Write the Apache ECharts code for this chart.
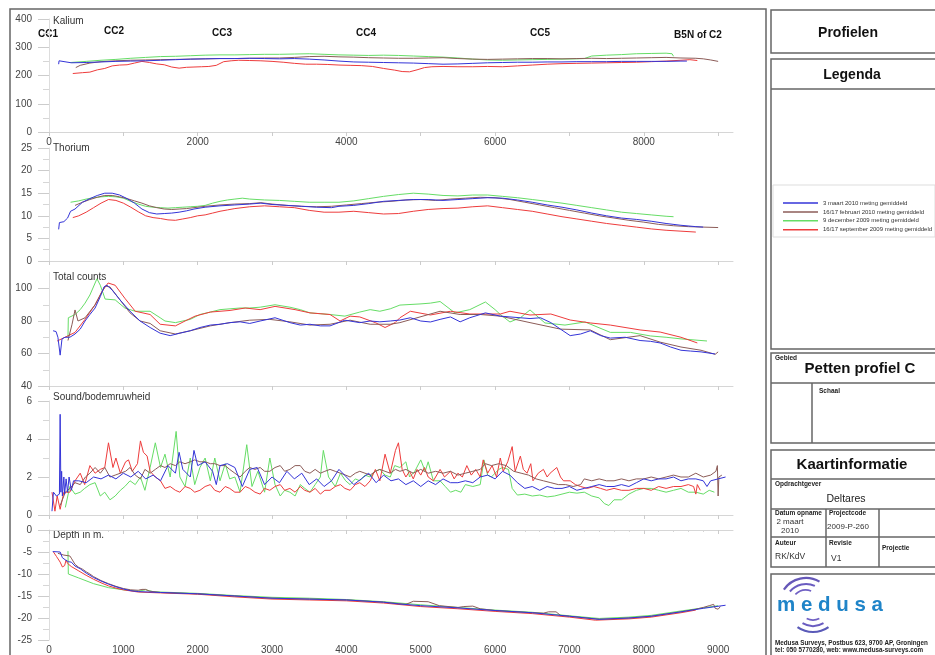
<!DOCTYPE html>
<html><head><meta charset="utf-8">
<script src="https://cdn.jsdelivr.net/npm/echarts@6/dist/echarts.min.js"></script>
<style>html,body{margin:0;padding:0;background:#fff}#c{width:935px;height:655px}</style>
</head><body><div id="c"></div>
<script>
// ---------- data ----------
const seriesNames = ['3 maart 2010 meting gemiddeld','16/17 februari 2010 meting gemiddeld','9 december 2009 meting gemiddeld','16/17 september 2009 meting gemiddeld'];
const panelTitles = ['Kalium','Thorium','Total counts','Sound/bodemruwheid','Depth in m.'];
const sectionLabels = ['CC1','CC2','CC3','CC4','CC5','B5N of C2'];
const distTicks = [0,1000,2000,3000,4000,5000,6000,7000,8000,9000];
const kaliumDistLabels = [0,2000,4000,6000,8000];
const depthDistLabels = [0,1000,2000,3000,4000,5000,6000,7000,8000,9000];
const kaliumTicks = [0,100,200,300,400];
const thoriumTicks = [0,5,10,15,20,25];
const countsTicks = [40,60,80,100];
const soundTicks = [0,2,4,6];
const depthTicks = [-25,-20,-15,-10,-5,0];

const kaliumBlue = [[130,240],[135,252],[150,246],[300,245],[500,246],[700,248],[900,250],[1100,251],[1300,252],[1500,254],[1700,256],[1900,258],[2100,259],[2300,260],[2500,260],[2700,261],[2900,260],[3100,259],[3300,260],[3500,258],[3700,255],[3900,251],[4100,248],[4300,247],[4500,246],[4700,245],[4900,244],[5100,242],[5300,240],[5500,241],[5700,243],[5900,245],[6100,246],[6300,247],[6500,247],[6700,248],[6900,248],[7100,249],[7300,249],[7500,249],[7700,250],[7900,250],[8100,250],[8300,250],[8500,251],[8580,251]];
const kaliumBrown = [[360,228],[420,236],[550,244],[700,249],[900,252],[1100,254],[1300,255],[1500,256],[1700,257],[1900,258],[2100,259],[2300,260],[2500,260],[2700,261],[2900,262],[3100,262],[3300,264],[3500,267],[3700,268],[3900,266],[4100,265],[4300,263],[4500,262],[4700,261],[4900,261],[5100,262],[5300,263],[5500,260],[5700,258],[5900,257],[6100,258],[6300,259],[6500,260],[6700,260],[6900,259],[7100,260],[7300,261],[7500,260],[7700,261],[7900,262],[8100,263],[8300,264],[8500,262],[8700,261],[8800,259],[8900,255],[9000,250]];
const kaliumGreen = [[290,246],[500,250],[700,254],[900,257],[1100,261],[1300,264],[1500,267],[1700,268],[1900,270],[2100,272],[2300,273],[2500,273],[2700,274],[2900,275],[3100,275],[3300,276],[3500,277],[3700,275],[3900,273],[4100,272],[4300,271],[4500,272],[4700,271],[4900,269],[5100,267],[5300,265],[5500,262],[5700,258],[5900,255],[6100,254],[6300,255],[6500,256],[6700,257],[6900,258],[7100,259],[7200,260],[7300,269],[7500,272],[7700,274],[7900,277],[8100,278],[8300,279],[8380,277],[8400,268]];
const kaliumRed = [[320,207],[450,210],[550,212],[650,220],[750,225],[850,234],[950,237],[1050,238],[1150,244],[1250,250],[1350,246],[1450,241],[1550,238],[1650,230],[1750,226],[1850,229],[1950,230],[2050,231],[2150,232],[2250,236],[2350,249],[2450,252],[2550,254],[2700,253],[2850,252],[3000,250],[3150,247],[3300,243],[3450,240],[3600,240],[3750,239],[3900,237],[4050,236],[4200,235],[4350,232],[4500,225],[4650,219],[4750,214],[4850,213],[4950,220],[5050,228],[5150,231],[5300,232],[5500,231],[5700,231],[5900,232],[6100,231],[6300,234],[6500,237],[6700,240],[6900,242],[7100,243],[7300,244],[7500,245],[7700,246],[7900,247],[8100,249],[8300,251],[8500,254],[8620,256],[8720,253]];

const thoriumBlue = [[130,7],[140,8.5],[200,8.7],[250,9.5],[290,11],[350,11.5],[450,13],[550,13.8],[650,14.5],[750,15],[850,15],[950,14.6],[1050,13.8],[1150,12.8],[1250,11.5],[1350,10.7],[1450,10.4],[1550,10.5],[1650,10.6],[1750,10.8],[1850,11.1],[1950,11.5],[2100,11.9],[2300,12.2],[2500,12.4],[2700,12.6],[2850,12.8],[3000,12.5],[3200,12.3],[3400,12.1],[3600,11.9],[3800,11.8],[3900,12.1],[4100,12.3],[4300,12.7],[4500,13.2],[4700,13.4],[4900,13.6],[5100,13.6],[5300,13.4],[5500,13.6],[5700,13.8],[5900,14],[6100,13.9],[6300,13.5],[6500,13],[6700,12.4],[6900,11.9],[7100,11.3],[7300,10.6],[7500,10],[7700,9.5],[7900,9.2],[8100,8.8],[8300,8.3],[8500,7.9],[8700,7.6],[8800,7.5]];
const thoriumBrown = [[350,12.3],[450,13],[550,13.6],[650,14.1],[750,14.5],[850,14.5],[950,14.2],[1050,13.8],[1150,13.3],[1250,12.8],[1350,12.2],[1450,11.8],[1550,11.5],[1650,11.4],[1750,11.5],[1850,11.6],[1950,11.8],[2100,12.1],[2300,12.4],[2500,12.6],[2700,12.7],[2850,12.9],[3000,12.6],[3200,12.3],[3400,12.1],[3600,12],[3800,12.1],[4000,12.4],[4200,12.7],[4400,13],[4600,13.2],[4800,13.5],[5000,13.6],[5200,13.4],[5400,13.7],[5600,13.9],[5800,14.1],[6000,14],[6200,13.6],[6400,13],[6600,12.4],[6800,11.8],[7000,11.2],[7200,10.6],[7400,10],[7600,9.5],[7800,9],[8000,8.6],[8200,8.1],[8400,7.8],[8600,7.6],[8800,7.5],[9000,7.4]];
const thoriumGreen = [[290,13],[400,13.3],[500,13.7],[600,14],[700,14.2],[800,14.3],[900,14.2],[1000,13.9],[1100,13.2],[1200,12.6],[1300,12.1],[1400,11.9],[1500,11.8],[1600,11.7],[1700,11.8],[1800,11.9],[1900,12],[2000,12.1],[2100,12.3],[2200,12.8],[2300,13.2],[2400,13.5],[2500,13.7],[2600,13.9],[2700,13.7],[2900,13.5],[3100,13.4],[3300,13.2],[3500,13],[3700,13],[3900,13],[4100,13.3],[4300,13.8],[4500,14.3],[4700,14.7],[4900,15],[5100,14.8],[5300,14.5],[5500,14.4],[5700,14.6],[5900,14.6],[6100,14.3],[6300,14],[6500,13.6],[6700,13.2],[6900,12.8],[7100,12.3],[7300,11.8],[7500,11.3],[7700,10.8],[7900,10.5],[8100,10.2],[8300,9.9],[8400,9.8]];
const thoriumRed = [[320,9.6],[400,10],[500,10.8],[600,11.8],[700,12.8],[800,13.6],[900,13.4],[1000,12.8],[1100,11.9],[1200,10.9],[1300,10],[1400,9.6],[1500,9.4],[1600,9.1],[1700,9.0],[1800,9.3],[1900,9.6],[2000,10],[2100,10.2],[2200,10.6],[2300,11],[2400,11.3],[2500,11.6],[2700,12],[2900,12.2],[3100,12],[3300,11.8],[3500,11.2],[3700,10.8],[3900,10.8],[4100,11],[4300,10.7],[4500,10.4],[4700,10.5],[4900,11],[5100,11.4],[5300,11.6],[5500,11.7],[5700,12],[5900,12.2],[6100,11.8],[6300,11.4],[6500,11],[6700,10.4],[6900,9.8],[7100,9.3],[7300,8.8],[7500,8.3],[7700,7.9],[7900,7.5],[8100,7.1],[8300,6.8],[8500,6.6],[8700,6.4]];

const countsBlue = [[55,74],[95,73.5],[120,70],[150,59],[175,69],[215,70],[280,70],[350,72],[420,75],[485,80],[550,84],[620,88],[690,95],[740,101],[780,102],[850,99],[955,93],[1090,86],[1225,80],[1360,76],[1495,72.5],[1630,71],[1760,72.5],[1900,74],[2030,76],[2170,77.5],[2300,78],[2435,79],[2570,79.5],[2700,78.5],[2840,80],[3040,82],[3240,79],[3380,77.5],[3510,78],[3650,77],[3780,77],[3980,80.5],[4180,79],[4320,80],[4450,79.5],[4590,80],[4720,80.6],[4860,82],[5000,80],[5130,79.4],[5260,81],[5400,82.5],[5530,79.5],[5660,82],[5870,85],[6070,83],[6200,82.5],[6340,82],[6470,81.5],[6610,82],[6750,79],[6880,75],[7010,71],[7150,72],[7280,74],[7420,71],[7550,69.5],[7750,70],[7950,68],[8090,67.5],[8220,66.5],[8360,64],[8500,62],[8630,61.5],[8770,61],[8960,59.7]];
const countsBrown = [[255,68],[310,78],[350,86.8],[390,80],[485,82],[620,90],[755,101.5],[820,101],[955,93],[1090,85],[1225,80],[1360,78.5],[1495,74],[1700,72],[1900,74],[2170,77],[2435,79],[2700,80.5],[2970,81],[3240,79.5],[3510,77.5],[3780,78],[4050,80.5],[4320,78],[4590,78],[4720,79],[4990,82.5],[5260,86],[5530,84],[5800,84],[6070,83],[6470,79],[6880,75],[7280,74.5],[7550,68.5],[7950,71],[8220,67],[8500,64],[8770,62],[8960,59.5],[9000,61]];
const countsGreen = [[255,70],[260,82],[350,84],[420,87],[485,91],[550,96],[645,106],[690,102],[755,93.5],[890,93],[1020,88],[1160,86],[1360,86],[1495,82],[1560,80],[1700,79],[1900,81],[2030,84],[2170,85.5],[2300,87],[2435,87.5],[2570,88],[2700,88],[2840,88.5],[3040,90],[3240,88.5],[3380,87],[3510,85],[3650,84.5],[3780,84],[3980,83],[4180,85.5],[4320,87],[4450,86],[4590,87.5],[4720,89.8],[4990,90.5],[5130,91],[5260,92],[5460,85],[5660,87],[5870,91.7],[6000,87],[6070,84],[6200,79.4],[6340,82],[6470,86.8],[6670,78.8],[6940,77.5],[7210,79.4],[7550,73],[7820,73],[8090,70.8],[8300,70],[8500,69],[8850,67.7]];
const countsRed = [[110,67.7],[215,70],[350,73],[485,81],[620,90],[710,98],[795,103.4],[890,102],[1020,94],[1160,86],[1360,84],[1495,78],[1700,77],[1830,80],[1965,83],[2170,85.5],[2435,86.5],[2640,88],[2840,87],[3040,89],[3310,87],[3510,85],[3780,84],[3915,80],[4050,83],[4180,82.5],[4390,79],[4520,76],[4655,79],[4720,82],[4860,86],[5130,83.7],[5400,86],[5660,84.3],[6070,84.3],[6200,86],[6470,83.7],[6750,84.3],[7010,80.6],[7280,78.8],[7550,77.5],[7950,74.5],[8220,73.2],[8500,70],[8720,66.5]];

const soundBlue = [[40,0.2],[60,1.2],[100,1.0],[140,1.1],[150,5.3],[160,1.2],[170,2.3],[180,1.0],[200,2.0],[210,1.1],[230,1.9],[250,1.2],[270,2.0],[300,1.3],[330,1.8],[400,1.8],[500,1.7],[600,2.0],[700,1.9],[800,2.1],[900,1.9],[1000,2.2],[1100,2.0],[1200,2.3],[1300,1.9],[1400,2.1],[1500,1.8],[1600,2.6],[1700,2.2],[1750,3.3],[1800,2.4],[1900,2.0],[1950,3.4],[2000,2.6],[2100,2.8],[2200,2.3],[2250,1.6],[2300,2.6],[2400,2.7],[2500,2.5],[2600,1.5],[2700,2.4],[2800,2.5],[2900,1.6],[3000,2.0],[3100,1.7],[3200,2.3],[3300,1.9],[3400,2.2],[3500,1.6],[3600,1.9],[3700,1.5],[3800,1.8],[3900,2.4],[4000,2.0],[4100,1.6],[4200,1.9],[4300,2.2],[4400,1.7],[4500,2.1],[4600,1.8],[4700,1.9],[4800,1.6],[4900,1.8],[5000,1.5],[5100,1.8],[5200,1.6],[5300,1.9],[5400,1.7],[5500,1.7],[5600,1.8],[5700,1.7],[5800,2.0],[5900,2.1],[6000,1.9],[6100,2.3],[6200,2.1],[6300,1.7],[6400,1.4],[6500,1.5],[6600,1.3],[6700,1.5],[6800,1.4],[6900,1.4],[7000,1.5],[7100,1.3],[7200,1.4],[7300,1.5],[7400,1.6],[7500,1.5],[7600,1.5],[7700,1.6],[7800,1.5],[7900,1.7],[8000,1.9],[8100,1.8],[8200,1.9],[8300,1.9],[8400,2.0],[8500,1.8],[8600,1.9],[8700,1.9],[8800,1.8],[8850,1.5],[8900,1.8],[9000,1.9],[9100,2.0]];
const soundBrown = [[150,0.5],[220,1.2],[280,1.4],[350,1.7],[420,1.6],[490,2.0],[550,2.2],[620,2.5],[690,2.2],[750,2.5],[820,2.0],[890,2.1],[960,2.2],[1030,2.3],[1090,2.5],[1160,2.1],[1230,1.9],[1290,2.4],[1360,2.2],[1430,2.4],[1500,2.6],[1560,2.5],[1630,2.7],[1700,2.6],[1760,2.8],[1830,2.7],[1900,2.8],[1960,2.9],[2030,2.8],[2100,2.8],[2170,2.7],[2230,2.7],[2300,2.6],[2370,2.6],[2430,2.4],[2500,2.2],[2570,2.0],[2640,2.3],[2700,2.5],[2770,2.4],[2840,2.5],[2900,2.3],[2970,2.3],[3040,2.5],[3110,2.6],[3170,2.3],[3240,2.4],[3310,2.6],[3380,2.6],[3440,2.3],[3510,2.2],[3580,2.4],[3650,2.2],[3710,2.3],[3780,2.4],[3850,2.3],[3920,2.2],[3990,2.1],[4050,2.0],[4120,2.2],[4180,2.3],[4250,2.2],[4320,2.1],[4390,2.3],[4450,2.4],[4520,2.3],[4590,2.2],[4660,2.4],[4720,2.3],[4800,2.4],[4900,2.2],[5000,2.4],[5100,2.2],[5200,2.3],[5300,2.2],[5400,2.3],[5500,2.1],[5600,2.2],[5700,2.3],[5800,2.4],[5870,2.7],[5950,2.6],[6050,2.7],[6150,2.6],[6250,2.3],[6350,2.2],[6450,2.1],[6550,1.9],[6650,1.8],[6750,1.7],[6850,1.6],[6950,1.6],[7050,1.5],[7150,1.6],[7200,1.9],[7300,1.8],[7400,1.9],[7500,1.8],[7600,1.8],[7700,1.9],[7800,1.8],[7900,1.9],[8000,1.9],[8100,2.0],[8200,1.9],[8300,2.0],[8400,2.1],[8500,2.0],[8600,2.0],[8700,2.2],[8800,2.0],[8900,2.1],[8970,2.3],[8990,2.6],[9000,1.0],[9010,2.0],[9050,2.1]];
const soundGreen = [[220,0.4],[280,1.5],[350,1.1],[420,1.2],[480,1.4],[550,1.6],[620,1.7],[690,1.0],[750,1.2],[820,0.8],[890,1.0],[960,1.3],[1020,1.5],[1090,1.8],[1160,1.6],[1230,2.0],[1290,1.3],[1360,2.5],[1430,3.8],[1500,2.5],[1560,3.2],[1630,2.0],[1710,4.4],[1760,2.0],[1830,1.5],[1900,3.0],[1960,1.6],[2030,2.5],[2100,3.0],[2170,1.8],[2230,3.0],[2300,1.8],[2370,2.7],[2430,1.9],[2500,2.0],[2570,1.2],[2660,3.7],[2730,1.5],[2810,2.3],[2900,1.2],[2970,3.0],[3040,1.6],[3110,1.0],[3170,1.3],[3240,1.2],[3310,1.0],[3380,1.6],[3440,1.4],[3510,1.2],[3580,1.6],[3650,2.0],[3690,3.4],[3760,2.0],[3850,1.5],[3920,2.2],[3990,1.8],[4050,1.6],[4120,1.9],[4180,1.8],[4250,2.1],[4320,2.0],[4390,2.3],[4450,2.4],[4520,2.1],[4590,2.0],[4650,2.6],[4720,2.5],[4800,2.8],[4850,2.0],[4920,2.3],[5000,2.9],[5060,2.3],[5100,2.8],[5170,1.8],[5260,1.8],[5330,1.5],[5400,1.2],[5470,1.3],[5540,1.2],[5600,1.6],[5700,1.5],[5800,1.6],[5850,2.9],[5900,2.1],[5950,2.0],[6050,2.4],[6100,2.5],[6180,2.4],[6230,1.4],[6300,1.05],[6400,1.1],[6500,1.0],[6600,1.05],[6700,0.95],[6800,1.0],[6900,1.1],[7000,1.2],[7100,1.15],[7200,1.2],[7300,1.0],[7400,0.9],[7470,0.6],[7530,0.5],[7600,0.8],[7700,0.8],[7800,1.1],[7900,1.3],[8000,1.4],[8100,1.4],[8200,1.3],[8300,1.2],[8400,1.3],[8500,1.4],[8600,1.2],[8700,1.2],[8800,1.1],[8880,1.3],[8950,1.2]];
const soundRed = [[40,1.2],[80,0.2],[110,1.0],[150,0.3],[200,1.2],[280,1.2],[350,1.8],[420,2.2],[480,1.6],[550,2.6],[620,2.2],[690,2.4],[750,2.5],[800,3.8],[860,2.5],[900,3.0],[960,2.2],[1030,2.8],[1070,2.9],[1120,2.3],[1190,2.7],[1230,3.9],[1270,3.3],[1320,3.1],[1360,2.3],[1430,2.0],[1500,1.8],[1560,1.4],[1630,1.5],[1700,1.3],[1760,1.2],[1830,1.5],[1900,1.4],[1960,1.2],[2030,1.3],[2100,1.5],[2170,1.6],[2230,1.3],[2300,1.2],[2370,1.5],[2430,1.4],[2500,1.2],[2570,1.2],[2640,1.5],[2700,1.4],[2770,1.2],[2840,1.1],[2900,1.4],[2970,1.3],[3040,1.5],[3110,1.6],[3170,1.3],[3240,1.4],[3310,1.2],[3380,1.5],[3440,1.3],[3510,1.2],[3580,1.4],[3650,1.1],[3710,1.3],[3780,1.3],[3850,1.5],[3920,1.6],[3980,1.4],[4050,1.3],[4120,1.6],[4180,1.7],[4250,1.5],[4320,1.8],[4390,2.4],[4450,1.8],[4520,3.2],[4590,2.2],[4660,3.4],[4700,3.8],[4750,2.4],[4800,2.0],[4850,2.3],[4900,1.9],[4950,2.4],[5000,2.1],[5050,2.5],[5100,2.0],[5170,1.8],[5260,2.4],[5320,2.0],[5400,2.3],[5450,1.9],[5500,2.2],[5560,2.0],[5620,2.6],[5680,2.1],[5740,2.4],[5800,2.0],[5840,2.9],[5900,2.2],[5960,2.6],[6020,2.0],[6070,3.0],[6110,2.3],[6170,2.8],[6230,3.6],[6270,2.3],[6340,3.1],[6380,2.4],[6430,2.2],[6480,2.7],[6510,1.8],[6580,2.2],[6650,2.4],[6700,2.0],[6740,2.2],[6830,2.5],[6880,2.0],[6920,1.8],[7010,1.8],[7080,1.6],[7150,1.5],[7240,1.4],[7330,1.5],[7420,1.4],[7500,1.3],[7600,1.4],[7700,1.3],[7800,1.3],[7900,1.4],[8000,1.4],[8100,1.3],[8200,1.5],[8300,1.4],[8400,1.5],[8500,1.5],[8600,1.6],[8670,1.5],[8700,1.1],[8720,1.6],[8760,1.3]];

const depthBlue = [[50,-4.9],[150,-5],[180,-6.3],[200,-5.9],[220,-6.8],[240,-6.4],[260,-7.2],[280,-6.8],[300,-7.3],[350,-8.2],[420,-8.8],[500,-9.8],[600,-10.8],[700,-11.6],[800,-12.3],[900,-12.9],[1000,-13.4],[1100,-13.8],[1200,-14.0],[1500,-14.2],[2000,-14.5],[2500,-15.0],[3000,-15.5],[3500,-15.7],[4000,-15.9],[4500,-16.4],[4700,-16.8],[5000,-17.2],[5500,-17.7],[6000,-18.3],[6500,-18.8],[7000,-19.6],[7400,-20.3],[7800,-20.0],[8100,-19.6],[8500,-18.6],[8800,-17.8],[9100,-17.1]];
const depthBrown = [[120,-5.3],[200,-5.7],[280,-5.9],[300,-6.4],[350,-7.8],[400,-8.5],[450,-8.9],[500,-9.5],[550,-10.0],[600,-10.6],[700,-11.5],[800,-12.2],[900,-12.8],[1000,-13.3],[1100,-13.6],[1200,-13.7],[1250,-13.5],[1300,-13.5],[1350,-13.9],[1500,-14.2],[2000,-14.5],[2500,-15.0],[3000,-15.5],[3500,-15.7],[4000,-15.9],[4500,-16.4],[4800,-16.9],[4900,-16.2],[5100,-16.3],[5250,-17.2],[5500,-17.6],[5580,-17.4],[5700,-17.3],[5800,-17.9],[6000,-18.3],[6500,-18.8],[6650,-18.9],[6720,-18.6],[6820,-18.6],[6880,-19.4],[7000,-19.6],[7400,-20.3],[7800,-20.0],[8100,-19.6],[8500,-18.6],[8700,-18.0],[8800,-17.6],[8880,-17.2],[8940,-16.9],[8960,-17.8],[9000,-18.0],[9030,-17.4]];
const depthGreen = [[255,-4.8],[260,-10.0],[400,-10.9],[600,-12.2],[800,-13.1],[1000,-13.6],[1200,-13.9],[1300,-13.6],[1400,-14.0],[1500,-14.1],[2000,-14.4],[2500,-14.9],[3000,-15.3],[3500,-15.5],[4000,-15.8],[4500,-16.3],[5000,-17.0],[5500,-17.6],[6000,-18.2],[6500,-18.7],[7000,-19.5],[7400,-20.1],[7800,-19.8],[8100,-19.4],[8500,-18.4],[8800,-17.7],[9000,-17.2]];
const depthRed = [[60,-5.0],[100,-6.0],[150,-7.3],[180,-8.4],[210,-8.1],[230,-6.8],[250,-7.6],[300,-8.3],[400,-9.3],[500,-10.3],[600,-11.2],[700,-12],[800,-12.7],[900,-13.2],[1000,-13.6],[1200,-14.1],[1500,-14.3],[2000,-14.6],[2500,-15.2],[3000,-15.7],[3500,-15.9],[4000,-16.1],[4500,-16.6],[5000,-17.4],[5500,-17.9],[6000,-18.5],[6500,-19.0],[7000,-19.8],[7350,-20.5],[7800,-20.2],[8100,-19.8],[8500,-18.8],[8700,-18.2]];

// ---------- chart ----------
const FONT = '"Liberation Sans", Arial, sans-serif';
const colors = ['#3434d8','#8c5c58','#66dd66','#ee3c3c'];
const panels = [
  [kaliumBlue,kaliumBrown,kaliumGreen,kaliumRed],
  [thoriumBlue,thoriumBrown,thoriumGreen,thoriumRed],
  [countsBlue,countsBrown,countsGreen,countsRed],
  [soundBlue,soundBrown,soundGreen,soundRed],
  [depthBlue,depthBrown,depthGreen,depthRed]
];
const gridBoxes = [
  {top:19, height:113},
  {top:148, height:113},
  {top:272.25, height:113.75},
  {top:401, height:114},
  {top:530, height:113.3}
];
const yCfg = [
  {min:0,max:400,interval:100,ticks:kaliumTicks},
  {min:0,max:25,interval:5,ticks:thoriumTicks},
  {min:40,max:110,interval:20,ticks:countsTicks},
  {min:0,max:6,interval:2,ticks:soundTicks},
  {min:-25,max:0,interval:5,ticks:depthTicks}
];
const xLabels = [kaliumDistLabels,[],[],[],depthDistLabels];
const plain = v => String(v);

const grid = gridBoxes.map(g => ({left:49, width:684, top:g.top, height:g.height, containLabel:false}));
const xAxis = gridBoxes.map((g,i) => ({
  type:'value', gridIndex:i, min:0, max:9200, interval:1000,
  axisLine:{show:true, lineStyle:{color:'#d6d6d6', width:1}},
  axisTick:{show:true, length:4, customValues:distTicks, lineStyle:{color:'#cccccc'}},
  minorTick:{show:i===4, splitNumber:5, length:2, lineStyle:{color:'#d6d6d6'}},
  axisLabel:{show:xLabels[i].length>0, customValues:xLabels[i], formatter:plain, fontSize:10, color:'#444', fontFamily:FONT, margin:5},
  splitLine:{show:false}
}));
const yAxis = yCfg.map((c,i) => ({
  type:'value', gridIndex:i, min:c.min, max:c.max, interval:c.interval,
  axisLine:{show:true, lineStyle:{color:'#dddddd', width:1}},
  axisTick:{show:true, length:11, customValues:c.ticks, lineStyle:{color:'#cccccc'}},
  minorTick:{show:true, splitNumber:2, length:6, lineStyle:{color:'#d6d6d6'}},
  axisLabel:{customValues:c.ticks, formatter:plain, fontSize:10, color:'#444', fontFamily:FONT, margin:17},
  splitLine:{show:false}
}));

const drawOrder = [2,3,1,0];
const series = [];
panels.forEach((pd, p) => {
  drawOrder.forEach(s => {
    series.push({
      type:'line', name:seriesNames[s], xAxisIndex:p, yAxisIndex:p, data:pd[s],
      symbol:'none', showSymbol:false, silent:true, animation:false,
      lineStyle:{width:1, color:colors[s]}, itemStyle:{color:colors[s]}
    });
  });
});

function txt(text, x, y, font, fill, align, valign) {
  return {type:'text', silent:true, style:{text:text, x:x, y:y, font:font, fill:fill||'#222', textAlign:align||'left', textVerticalAlign:valign||'middle'}};
}
function box(x,y,w,h,stroke,lw) {
  return {type:'rect', silent:true, shape:{x:x,y:y,width:w,height:h}, style:{fill:'none', stroke:stroke||'#666', lineWidth:lw||1.5}};
}
function ln(x1,y1,x2,y2,stroke,lw) {
  return {type:'line', silent:true, shape:{x1:x1,y1:y1,x2:x2,y2:y2}, style:{stroke:stroke||'#666', lineWidth:lw||1.5}};
}
function arc(cx,cy,r,a0,a1,color,lw) {
  return {type:'arc', silent:true, shape:{cx:cx,cy:cy,r:r,startAngle:a0*Math.PI/180,endAngle:a1*Math.PI/180,clockwise:true}, style:{fill:null, stroke:color, lineWidth:lw}};
}

const titleY = [21, 148, 277, 397, 535];
const sectionPos = [[48,34],[114,31],[222,33],[366,33],[540,33],[698,35]];

const graphic = [
  box(10, 9, 756, 660, '#666', 1.5),
  box(771, 10, 170, 43), txt('Profielen', 848, 33, 'bold 14px '+FONT, '#111', 'center'),
  box(771, 59, 170, 290), ln(771, 89, 941, 89), txt('Legenda', 852, 75, 'bold 14px '+FONT, '#111', 'center'),
  box(773, 185, 162, 52, '#dddddd', 1),
  box(771, 353, 170, 90), ln(771, 383, 941, 383), ln(812, 383, 812, 443),
  txt('Gebied', 775, 358, 'bold 6.5px '+FONT, '#222'),
  txt('Petten profiel C', 860, 369, 'bold 15px '+FONT, '#111', 'center'),
  txt('Schaal', 819, 391, 'bold 6.5px '+FONT, '#222'),
  box(771, 450, 170, 117), ln(771, 479, 941, 479), ln(771, 509, 941, 509), ln(771, 537, 941, 537),
  ln(826, 509, 826, 567), ln(879, 509, 879, 567),
  txt('Kaartinformatie', 852, 465, 'bold 15px '+FONT, '#111', 'center'),
  txt('Opdrachtgever', 775, 484, 'bold 6.5px '+FONT, '#222'),
  txt('Deltares', 846, 499, '10.5px '+FONT, '#222', 'center'),
  txt('Datum opname', 775, 513, 'bold 6.5px '+FONT, '#222'),
  txt('2 maart', 790, 522, '8px '+FONT, '#333', 'center'),
  txt('2010', 790, 531, '8px '+FONT, '#333', 'center'),
  txt('Projectcode', 829, 513, 'bold 6.5px '+FONT, '#222'),
  txt('2009-P-260', 848, 527, '8px '+FONT, '#333', 'center'),
  txt('Auteur', 775, 543, 'bold 6.5px '+FONT, '#222'),
  txt('Revisie', 829, 543, 'bold 6.5px '+FONT, '#222'),
  txt('Projectie', 882, 548, 'bold 6.5px '+FONT, '#222'),
  txt('RK/KdV', 775, 557, '8.5px '+FONT, '#333'),
  txt('V1', 831, 559, '8.5px '+FONT, '#333'),
  box(771, 574, 170, 100),
  arc(806, 605, 27, 215, 300, '#6658b8', 2.2),
  arc(806, 605, 21, 220, 295, '#6a5cc0', 2),
  arc(806, 605, 15, 225, 290, '#7060c4', 1.6),
  arc(813, 605, 27, 55, 125, '#5a5ab8', 2.2),
  arc(813, 605, 21, 60, 120, '#6a5cc0', 2),
  arc(813, 605, 15, 65, 115, '#7060c4', 1.6),
  txt('m e d u s a', 777, 605, 'bold 20.5px '+FONT, '#1f84c8'),
  txt('Medusa Surveys, Postbus 623, 9700 AP, Groningen', 775, 643, 'bold 6.3px '+FONT, '#222'),
  txt('tel: 050 5770280, web: www.medusa-surveys.com', 775, 650, 'bold 6.3px '+FONT, '#222')
];
panelTitles.forEach((t,i) => graphic.push(txt(t, 53, titleY[i], '10px '+FONT, '#333')));
sectionLabels.forEach((t,i) => graphic.push(txt(t, sectionPos[i][0], sectionPos[i][1], 'bold 10px '+FONT, '#111', 'center')));

const chart = echarts.init(document.getElementById('c'), null, {renderer:'canvas'});
chart.setOption({
  animation:false,
  backgroundColor:'#ffffff',
  grid, xAxis, yAxis, series, graphic,
  legend:{
    data: seriesNames.map((n,i) => ({name:n, itemStyle:{color:colors[i], borderWidth:0}})),
    orient:'vertical', left:778, top:195,
    icon:'rect', itemWidth:35, itemHeight:1.5, itemGap:2.9, selectedMode:false,
    textStyle:{fontSize:6, color:'#333', fontFamily:FONT}
  }
});
</script></body></html>
